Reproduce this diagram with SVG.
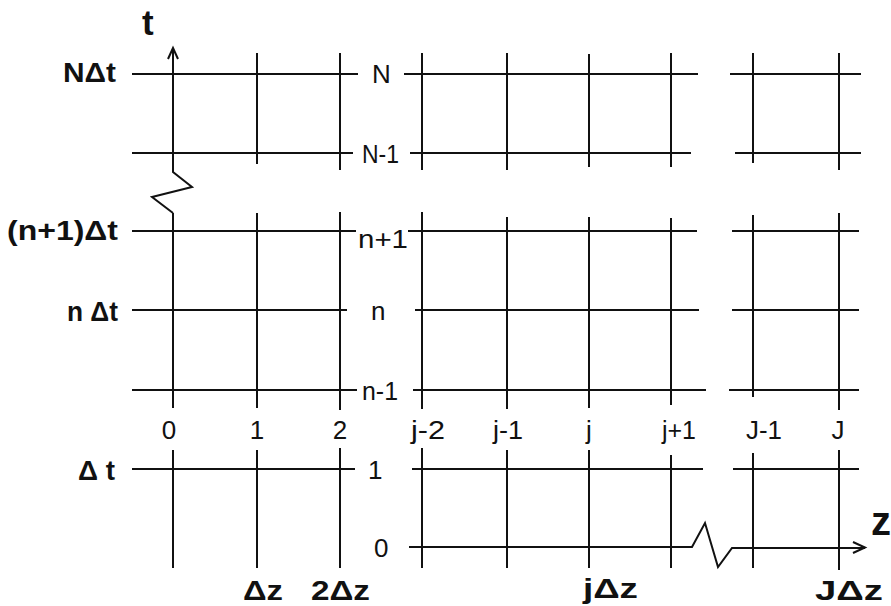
<svg xmlns="http://www.w3.org/2000/svg" width="891" height="606" viewBox="0 0 891 606">
<style>
.g{stroke:#111;stroke-width:2;fill:none;stroke-linecap:butt}
.lbl{font-family:"Liberation Sans",Arial,sans-serif;font-size:26px;fill:#111}
.b{font-family:"Liberation Sans",Arial,sans-serif;font-weight:bold;font-size:28px;fill:#111}
</style>
<rect width="891" height="606" fill="#fff"/>
<g id="grid" class="g">
<path d="M132 74H358M404 74H698M730 74H861"/>
<path d="M132 153H353M410 153H691M735 153H861"/>
<path d="M132 231H356M408 231H697M732 231H859"/>
<path d="M132 310H347M415 310H699M732 310H859"/>
<path d="M132 390H357M413 390H706M729 390H859"/>
<path d="M132 469H355M412 469H703M733 469H859"/>
<path d="M257 53V164M340 53V170M422 53V170M507 53V170M589 54V167M671 53V167M753 53V163M839 53V170"/>
<path d="M173 213V408M257 213V408M340 212V410M422 212V409M507 217V409M589 217V408M671 218V405M753 215V397M839 213V410"/>
<path d="M173 450V568M257 450V568M340 448V568M422 448V568M507 450V568M589 450V568M671 455V568M753 453V568M839 450V570"/>
</g>
<g id="connectors" class="g">
<g id="t-axis">
<path d="M173 49V172L192 187L152 197L173 213"/>
<path d="M168 59L173 48L178 59"/>
</g>
<g id="z-axis">
<path d="M409 547H692L705 523L718 567L732 548H865"/>
<path d="M853 542L865 547.5L853 553"/>
</g>
</g>
<g id="axis-labels">
<text class="b" x="142" y="35" style="font-size:35px">t</text>
<text class="b" x="871" y="535" style="font-size:40px">z</text>
</g>
<g id="time-labels">
<text class="b" x="116" y="82" text-anchor="end" textLength="53" lengthAdjust="spacingAndGlyphs">NΔt</text>
<text class="b" x="118" y="240" text-anchor="end" textLength="111" lengthAdjust="spacingAndGlyphs">(n+1)Δt</text>
<text class="b" x="118" y="321" text-anchor="end" textLength="51" lengthAdjust="spacingAndGlyphs">n Δt</text>
<text class="b" x="115" y="480" text-anchor="end" textLength="37" lengthAdjust="spacingAndGlyphs">Δ t</text>
</g>
<g id="row-indices">
<text class="lbl" x="372" y="83">N</text>
<text class="lbl" x="362" y="163" textLength="37" lengthAdjust="spacingAndGlyphs">N-1</text>
<text class="lbl" x="358" y="248" textLength="50" lengthAdjust="spacingAndGlyphs">n+1</text>
<text class="lbl" x="371" y="320">n</text>
<text class="lbl" x="362" y="400" textLength="36" lengthAdjust="spacingAndGlyphs">n-1</text>
<text class="lbl" x="368" y="479">1</text>
<text class="lbl" x="374" y="557">0</text>
</g>
<g id="column-indices">
<text class="lbl" x="169" y="439" text-anchor="middle">0</text>
<text class="lbl" x="257" y="439" text-anchor="middle">1</text>
<text class="lbl" x="340" y="439" text-anchor="middle">2</text>
<text class="lbl" x="411" y="439" textLength="34" lengthAdjust="spacingAndGlyphs">j-2</text>
<text class="lbl" x="493" y="439" textLength="30" lengthAdjust="spacingAndGlyphs">j-1</text>
<text class="lbl" x="589" y="439" text-anchor="middle">j</text>
<text class="lbl" x="662" y="439" textLength="34" lengthAdjust="spacingAndGlyphs">j+1</text>
<text class="lbl" x="746" y="439" textLength="36" lengthAdjust="spacingAndGlyphs">J-1</text>
<text class="lbl" x="838" y="439" text-anchor="middle">J</text>
</g>
<g id="space-labels">
<text class="b" x="243" y="600" textLength="40" lengthAdjust="spacingAndGlyphs">Δz</text>
<text class="b" x="311" y="600" textLength="59" lengthAdjust="spacingAndGlyphs">2Δz</text>
<text class="b" x="583" y="598" textLength="55" lengthAdjust="spacingAndGlyphs">jΔz</text>
<text class="b" x="815" y="600" textLength="68" lengthAdjust="spacingAndGlyphs">JΔz</text>
</g>
</svg>
